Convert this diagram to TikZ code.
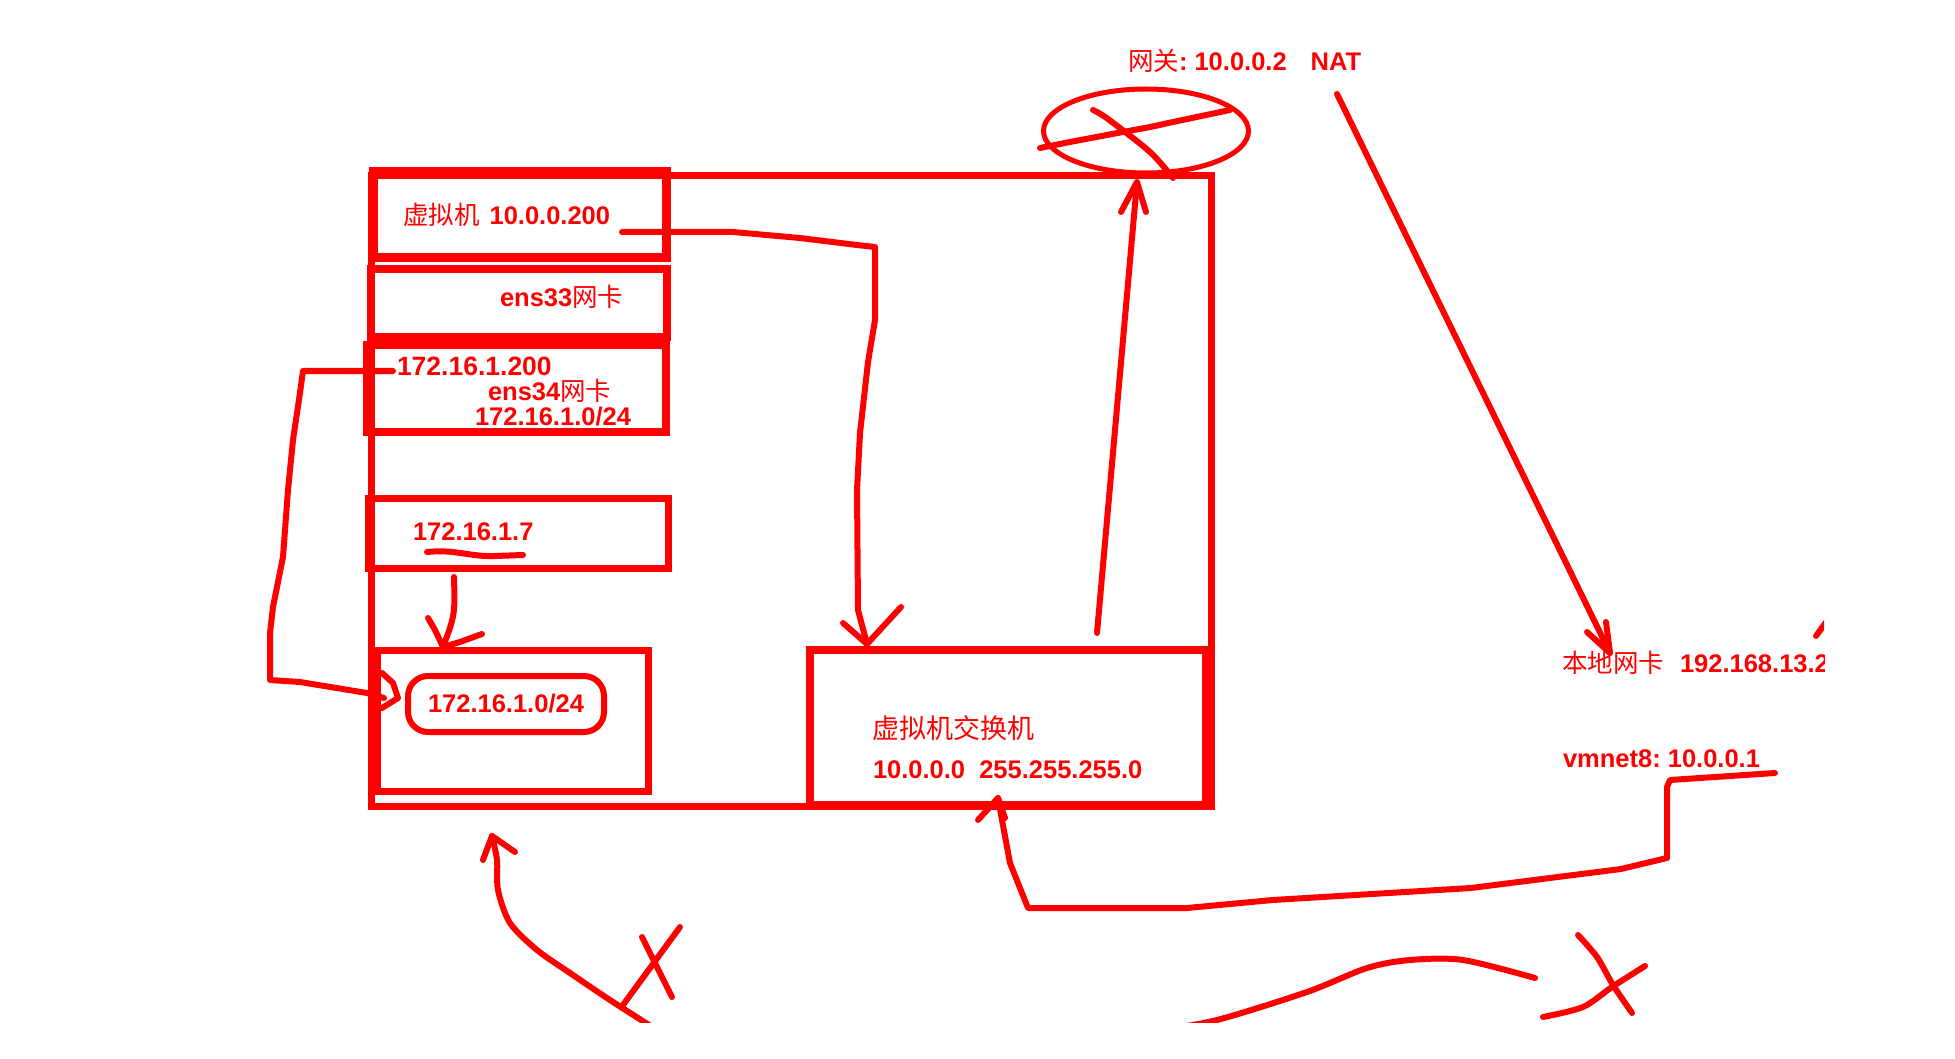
\documentclass[tikz,border=0pt]{standalone}
\usepackage{fontspec}
\setmainfont{Liberation Sans}
\newfontfamily\cjk{Noto Sans CJK SC}
\newcommand\zhtext[1]{{\cjk\mdseries #1}}
\usetikzlibrary{shapes.geometric}
\tikzset{
  pen/.style={draw=red, line width=#1pt, line cap=round, line join=round},
  pen/.default=6,
  box/.style={draw=red, line width=8pt, inner sep=0pt, outer sep=0pt},
  lbl/.style={text=red, font=\fontsize{25.5}{30}\selectfont\bfseries, anchor=base west, inner sep=0pt, outer sep=0pt},
}
\begin{document}
\begin{tikzpicture}[x=1pt,y=-1pt]
\path[use as bounding box, fill=white] (0,0) rectangle (1955,1059);
\begin{scope}
\clip (0,0) rectangle (1824,1022);

% boxes
\node[box, line width=7pt, minimum width=840pt, minimum height=630pt] (outer) at (791,491) {};
\node[box, line width=9pt, minimum width=293pt, minimum height=86pt] (vm) at (519.5,215) {};
\node[box, minimum width=296pt, minimum height=68pt] (ens33) at (519,303) {};
\node[box, minimum width=299pt, minimum height=87pt] (ens34) at (516.5,388.5) {};
\node[box, line width=7pt, minimum width=300pt, minimum height=70pt] (ip7) at (518,533) {};
\node[box, line width=7pt, minimum width=271pt, minimum height=141pt] (lowbox) at (512.5,720.5) {};
\node[box, minimum width=396pt, minimum height=155pt] (switch) at (1008,727.5) {};
\draw[red, line width=12pt] (1208,650) -- (1208,809);
\node[draw=red, line width=6pt, rounded corners=20pt, minimum width=196pt, minimum height=56pt, inner sep=0pt, outer sep=0pt] (rb) at (506,704) {};
\node[draw=red, line width=5pt, ellipse, minimum width=205pt, minimum height=84pt, inner sep=0pt, outer sep=0pt] (gw) at (1146,131) {};

% texts
\node[lbl] (tvm) at (403,225) {\zhtext{虚拟机}\hspace{3pt} 10.0.0.200};
\node[lbl] (t33) at (500,307) {ens33\zhtext{网卡}};
\node[lbl, font=\fontsize{26.5}{30}\selectfont\bfseries] (t200) at (397,376) {172.16.1.200};
\node[lbl] (t34) at (488,400) {ens34\zhtext{网卡}};
\node[lbl] (t34n) at (475,425) {172.16.1.0/24};
\node[lbl] (t7) at (413,540) {172.16.1.7};
\node[lbl] (tnet) at (428,712) {172.16.1.0/24};
\node[lbl, font=\fontsize{27}{30}\selectfont] (tsw) at (872,738) {\zhtext{虚拟机交换机}};
\node[lbl] (tswip) at (873,778) {10.0.0.0\ \ 255.255.255.0};
\node[lbl] (tgw) at (1128,71) {\zhtext{网关}:\ 10.0.0.2\hspace{24pt}NAT};
\node[lbl] (tnic) at (1562,672) {\zhtext{本地网卡}\hspace{16pt}192.168.13.2};
\node[lbl] (tvn) at (1563,767) {vmnet8:\ 10.0.0.1};

% VM -> switch
\coordinate (vmS) at (622,232);
\coordinate (swT) at (867,644);
\draw[pen] (vmS) -- (733,232) -- (800,238) -- (857,245) -- (875,247) -- (875,320) -- (868,362) -- (860,433) -- (857,490) -- (858,610) -- (swT);
\draw[pen] (843,623) -- (swT) -- (901,607);

% 172.16.1.200 loop -> lowbox
\coordinate (lpS) at (393,371);
\coordinate (lpT) at (398,698);
\draw[pen] (lpS) -- (303,371) -- (300,393) -- (293,440) -- (288,490) -- (283,557) -- (273,607) -- (270,633) -- (270,680) -- (300,682) -- (367,693) -- (384,698);
\draw[pen] (382,673) -- (393,683) -- (lpT) -- (382,708);

% 172.16.1.7 -> lowbox
\coordinate (a7S) at (454,577);
\coordinate (a7T) at (443,647);
\draw[pen] (a7S) .. controls (455,615) .. (a7T);
\draw[pen] (428,618) -- (435,630) -- (a7T) -- (460,642) -- (482,634);
\draw[pen] (427,552) .. controls (455,549) and (470,557) .. (495,556) -- (523,555);

% switch -> gateway
\coordinate (upS) at (1097,633);
\coordinate (upT) at (1137,182);
\draw[pen] (upS) -- (upT);
\draw[pen] (1121,212) -- (upT) -- (1146,212);

% cross on gateway
\draw[pen=6] plot[smooth] coordinates {(1040,148) (1070,142) (1123,132) (1150,127) (1173,122) (1230,110)};
\draw[pen=6] plot[smooth] coordinates {(1093,110) (1108,119) (1150,152) (1173,178)};

% NAT -> local NIC
\coordinate (natS) at (1337,94);
\coordinate (nicT) at (1610,653);
\draw[pen] (natS) -- (nicT);
\draw[pen] (1587,632) -- (nicT) -- (1606,622);
\draw[pen] (1816,636) -- (1832,614);

% vmnet8 -> switch
\coordinate (vnS) at (1775,773);
\coordinate (swB) at (998,798);
\draw[pen] (vnS) -- (1670,780) -- (1667,787) -- (1667,858) -- (1621,869) -- (1471,888) -- (1273,900) -- (1187,908) -- (1028,908) -- (1010,863) -- (1002,820) -- (swB);
\draw[pen] (978,820) -- (swB) -- (1005,818);

% bottom left arrow and X
\coordinate (blT) at (492,836);
\draw[pen] plot[smooth] coordinates {(blT) (497,860) (498,890) (510,923) (537,950) (570,973) (610,1000) (660,1032)};
\draw[pen] (483,860) -- (blT) -- (515,852);
\draw[pen] (623,1005) -- (680,927);
\draw[pen] (642,937) -- (672,997);

% bottom right wave and X
\draw[pen] plot[smooth] coordinates {(1160,1030) (1217,1020) (1307,992) (1367,968) (1410,960) (1463,960) (1535,978)};
\draw[pen] plot[smooth] coordinates {(1543,1017) (1583,1007) (1612,987) (1645,966)};
\draw[pen] plot[smooth] coordinates {(1578,935) (1597,957) (1613,985) (1632,1013)};
\end{scope}
\end{tikzpicture}
\end{document}
